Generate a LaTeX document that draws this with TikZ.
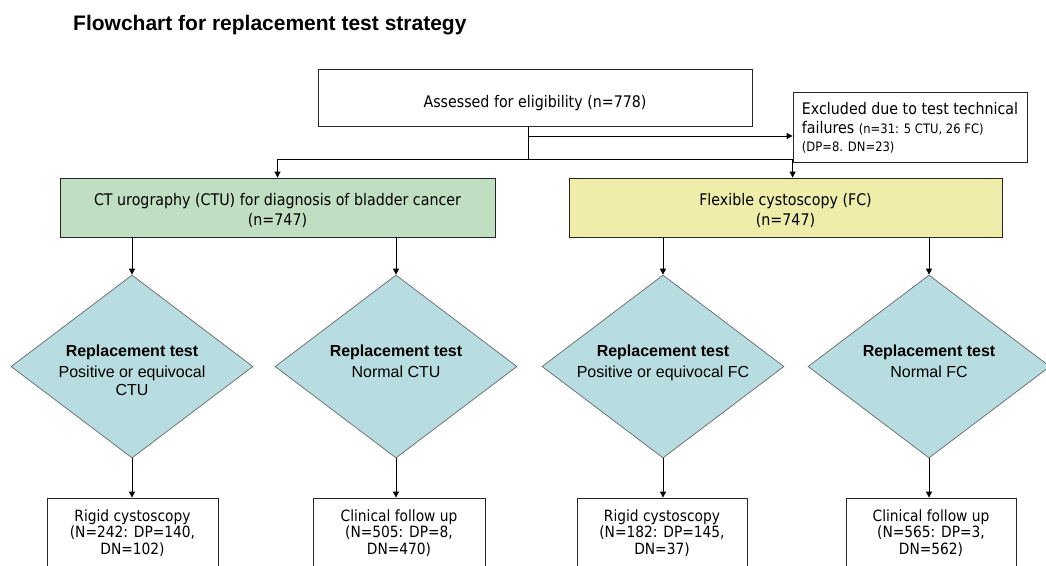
\documentclass[tikz,border=0pt]{standalone}
\usepackage{fontspec}
\usepackage{tikz}
\usetikzlibrary{arrows.meta,shapes.geometric}

\newfontfamily\headfont{Liberation Sans}
\newfontfamily\boxfont[FakeStretch=0.89]{DejaVu Sans}

\definecolor{ctugreen}{RGB}{192,223,194}
\definecolor{fcyellow}{RGB}{238,237,170}
\definecolor{testblue}{RGB}{184,221,224}

\tikzset{
	box/.style={draw=black!85, line width=0.8pt, align=center, inner sep=0pt,
		font=\boxfont\fontsize{16}{20}\selectfont},
	result/.style={box, anchor=center, minimum height=70pt,
		font=\boxfont\fontsize{15.5}{16.5}\selectfont},
	testnode/.style={diamond, draw=black!60, fill=testblue, line width=0.7pt,
		minimum width=242pt, minimum height=183pt, inner sep=0pt},
	testtext/.style={anchor=north, inner sep=0pt, align=center,
		font=\headfont\fontsize{16}{21}\selectfont},
	arr/.style={-{Triangle[width=6pt,length=6pt]}, line width=0.8pt},
	line/.style={line width=0.8pt},
}

\begin{document}
\begin{tikzpicture}[x=1pt, y=-1pt]
	\useasboundingbox (0,0) rectangle (1046,565);
	\clip (0,0) rectangle (1046,565);

	\node[anchor=base west, inner sep=0pt, font=\headfont\bfseries\fontsize{21}{25}\selectfont] (title) at (73,30) {Flowchart for replacement test strategy};

	% Enrolment and exclusions
	\node[box, minimum width=434pt, minimum height=57pt, text height=20pt, text depth=0pt] (assess) at (535,97.5) {Assessed for eligibility (n=778)};
	\node[box, minimum width=234pt, minimum height=70pt, align=left] (excl) at (910,127.5)
		{Excluded due to test technical\\[-1pt]
		failures {\fontsize{13}{15}\selectfont (n=31: 5 CTU, 26 FC)}\\[-2pt]
		{\fontsize{13}{15}\selectfont (DP=8. DN=23)}};

	\node[box, fill=ctugreen, minimum width=435pt, minimum height=59pt] (ctu) at (277.5,207.5) {\rule{0pt}{19pt}CT urography (CTU) for diagnosis of bladder cancer\\(n=747)};
	\node[box, fill=fcyellow, minimum width=433pt, minimum height=59pt] (fc) at (785.5,207.5) {\rule{0pt}{19pt}Flexible cystoscopy (FC)\\(n=747)};

	\coordinate (j1) at (528,136);
	\coordinate (j2) at (528,159);
	\draw[line] (assess.south -| j1) -- (j2);
	\draw[arr] (j1) -- (excl.west |- j1);
	\draw[arr] (j2) -| (ctu.north);
	\draw[arr] (j2) -| (excl.west |- fc.north);

	% Replacement tests
	\node[testnode] (d1) at (132,366.5) {};
	\node[testnode] (d2) at (396,366.5) {};
	\node[testnode] (d3) at (663,366.5) {};
	\node[testnode] (d4) at (929,366.5) {};
	\node[testtext] (t1) at (132,345) {\textbf{Replacement test}\\Positive or equivocal\\[-3pt]CTU};
	\node[testtext] (t2) at (396,345) {\textbf{Replacement test}\\Normal CTU};
	\node[testtext] (t3) at (663,345) {\textbf{Replacement test}\\Positive or equivocal FC};
	\node[testtext] (t4) at (929,345) {\textbf{Replacement test}\\Normal FC};

	\draw[arr] (ctu.south -| d1.north) -- (d1.north);
	\draw[arr] (ctu.south -| d2.north) -- (d2.north);
	\draw[arr] (fc.south -| d3.north) -- (d3.north);
	\draw[arr] (fc.south -| d4.north) -- (d4.north);

	% Reference standard per arm
	\node[result, minimum width=171pt] (r1) at (132.5,533) {Rigid cystoscopy\\(N=242: DP=140,\\DN=102)};
	\node[result, minimum width=172pt] (r2) at (399,533) {Clinical follow up\\(N=505: DP=8,\\DN=470)};
	\node[result, minimum width=170pt] (r3) at (662,533) {Rigid cystoscopy\\(N=182: DP=145,\\DN=37)};
	\node[result, minimum width=170pt] (r4) at (931,533) {Clinical follow up\\(N=565: DP=3,\\DN=562)};

	\draw[arr] (d1.south) -- (d1.south |- r1.north);
	\draw[arr] (d2.south) -- (d2.south |- r2.north);
	\draw[arr] (d3.south) -- (d3.south |- r3.north);
	\draw[arr] (d4.south) -- (d4.south |- r4.north);
\end{tikzpicture}
\end{document}
